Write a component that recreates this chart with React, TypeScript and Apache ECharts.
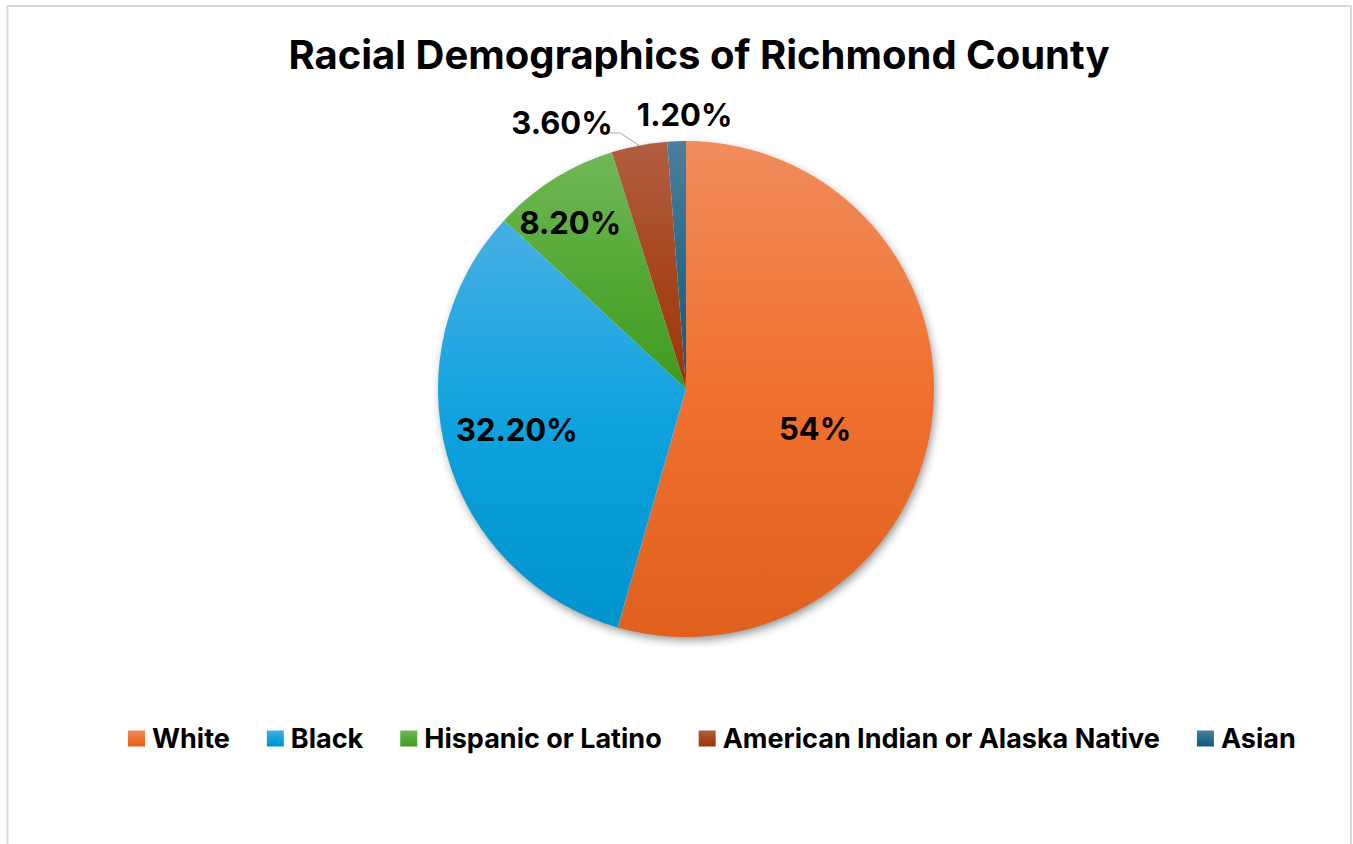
import React, { useEffect, useRef } from 'react';
import * as echarts from 'echarts';

const titleText = 'Racial Demographics of Richmond County';
const categories = ['White', 'Black', 'Hispanic or Latino', 'American Indian or Alaska Native', 'Asian'];
const values = [54, 32.2, 8.2, 3.6, 1.2];
const sliceStops: string[][] = [
  ['#F08C5D', '#F0712F', '#E0601D'],
  ['#47AFE4', '#0EA2DE', '#0093CD'],
  ['#70B858', '#55A936', '#3E9B1E'],
  ['#B25E43', '#A6471F', '#9A3608'],
  ['#4C7F9A', '#2A6B8D', '#0D5A80'],
];

const CX = 686;
const CY = 389;
const R = 248;
const FONT = 'Inter, "Noto Sans", sans-serif';

const labelRadius = [0.55, 0.7, 0.82, 1, 1.105];
const labelNudge = [[-6, 21], [-2, -6], [-7, 5], [0, 0], [9, -1]];

function fmt(v: number) {
  return Number.isInteger(v) ? `${v}%` : `${v.toFixed(2)}%`;
}

const total = values.reduce((a, b) => a + b, 0);
function midAngle(i: number) {
  let s = 0;
  for (let k = 0; k < i; k++) s += values[k];
  return ((s + values[i] / 2) / total) * Math.PI * 2;
}
function polar(a: number, d: number) {
  return [CX + d * Math.sin(a), CY - d * Math.cos(a)];
}
function grad(stops: string[]) {
  return new echarts.graphic.LinearGradient(0, 0, 0, 1, [
    { offset: 0, color: stops[0] },
    { offset: 0.5, color: stops[1] },
    { offset: 1, color: stops[2] },
  ]);
}

export default function App() {
  const ref = useRef<HTMLDivElement>(null);
  useEffect(() => {
    if (!ref.current) return;
    const chart = echarts.init(ref.current, undefined, { renderer: 'svg' });
    const option: any = {
      animation: false,
      backgroundColor: '#ffffff',
      graphic: [
        {
          type: 'rect',
          z: 0,
          silent: true,
          shape: { x: 7.5, y: 6, width: 1343.5, height: 900 },
          style: { fill: 'none', stroke: '#D9D9D9', lineWidth: 2 },
        },
        {
          type: 'circle',
          z: 0,
          silent: true,
          shape: { cx: CX, cy: CY, r: R - 1 },
          style: {
            fill: '#ffffff',
            shadowBlur: 10,
            shadowOffsetX: 2,
            shadowOffsetY: 4,
            shadowColor: 'rgba(0,0,0,0.45)',
          },
        },
        {
          type: 'text',
          z: 10,
          x: 699,
          y: 54,
          style: {
            text: titleText,
            align: 'center',
            verticalAlign: 'middle',
            font: `bold 40px ${FONT}`,
            fill: '#000000',
          },
        },
      ],
      legend: {
        left: 128,
        top: 725,
        padding: 0,
        icon: 'rect',
        itemWidth: 17,
        itemHeight: 16,
        itemGap: 37,
        textStyle: {
          fontFamily: FONT,
          fontWeight: 'bold',
          fontSize: 27,
          color: '#000000',
          padding: [0, 0, 0, 2],
        },
        data: categories.map((c, i) => ({ name: c, itemStyle: { color: grad(sliceStops[i]) } })),
      },
      series: [
        {
          type: 'pie',
          center: [CX, CY],
          radius: R,
          startAngle: 90,
          clockwise: true,
          avoidLabelOverlap: false,
          label: {
            show: true,
            position: 'outside',
            fontFamily: FONT,
            fontWeight: 'bold',
            fontSize: 31,
            color: '#000000',
            formatter: (p: any) => fmt(p.value),
          },
          labelLine: {
            show: true,
            length: 15,
            length2: 10,
            lineStyle: { color: '#A6A6A6', width: 1 },
          },
          labelLayout: (p: any) => {
            const i = p.dataIndex;
            const a = midAngle(i);
            if (i === 3) {
              const [ex, ey] = polar(a, R);
              return {
                x: ex - 26.5,
                y: ey - 23,
                align: 'right',
                verticalAlign: 'middle',
                labelLinePoints: [
                  [ex, ey],
                  [ex - 19, ey - 12.5],
                  [ex - 29, ey - 12.5],
                ],
              };
            }
            const [x, y] = polar(a, R * labelRadius[i]);
            return {
              x: x + labelNudge[i][0],
              y: y + labelNudge[i][1],
              align: 'center',
              verticalAlign: 'middle',
            };
          },
          itemStyle: { borderWidth: 0 },
          emphasis: { disabled: true },
          data: categories.map((c, i) => ({
            name: c,
            value: values[i],
            itemStyle: { color: grad(sliceStops[i]) },
            labelLine: { show: i === 3 },
          })),
        },
      ],
    };
    chart.setOption(option);
    return () => chart.dispose();
  }, []);
  return (
    <div
      ref={ref}
      style={{ position: 'absolute', left: 0, top: 0, width: 1353, height: 844 }}
    />
  );
}
